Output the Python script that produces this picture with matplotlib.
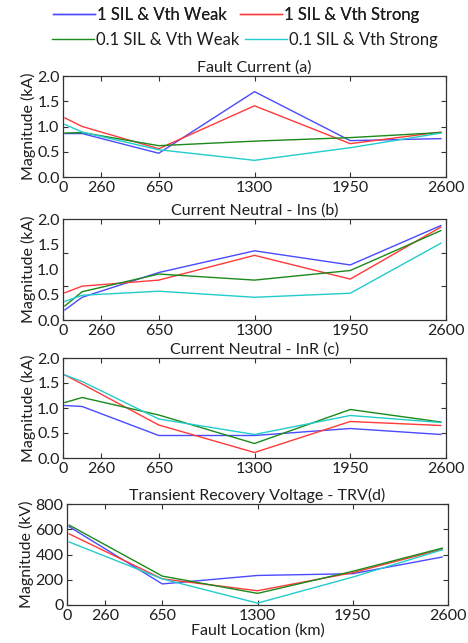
import matplotlib
matplotlib.use("Agg")
import matplotlib.pyplot as plt
from matplotlib.lines import Line2D

plt.rcParams['font.family'] = ['Lato', 'DejaVu Sans']

# ---------------- data ----------------
x5 = [13, 130, 650, 1300, 1950, 2565]
x4 = [15, 650, 1300, 1950, 2560]
xticks = [0, 260, 650, 1300, 1950, 2600]

series_names = ["1 SIL & Vth Weak", "1 SIL & Vth Strong",
                "0.1 SIL & Vth Weak", "0.1 SIL & Vth Strong"]
series_colors = ["#4a4aff", "#ff3a3a", "#1a8a1a", "#22cccc"]

# (a) Fault Current (kA)
fc_w1 = [0.86, 0.86, 0.47, 1.69, 0.72, 0.76]
fc_s1 = [1.17, 1.00, 0.56, 1.41, 0.66, 0.89]
fc_w01 = [0.87, 0.88, 0.62, 0.71, 0.78, 0.88]
fc_s01 = [1.04, 0.89, 0.54, 0.33, 0.58, 0.87]

# (b) Current Neutral - Ins (kA)
ins_w1 = [0.20, 0.45, 0.94, 1.37, 1.09, 1.87]
ins_s1 = [0.54, 0.67, 0.79, 1.28, 0.81, 1.84]
ins_w01 = [0.28, 0.56, 0.91, 0.79, 0.98, 1.77]
ins_s01 = [0.37, 0.49, 0.57, 0.45, 0.53, 1.52]

# (c) Current Neutral - InR (kA)
inr_w1 = [1.05, 1.03, 0.45, 0.45, 0.59, 0.47]
inr_s1 = [1.66, 1.48, 0.66, 0.11, 0.73, 0.65]
inr_w01 = [1.11, 1.21, 0.86, 0.29, 0.97, 0.72]
inr_s01 = [1.66, 1.53, 0.78, 0.47, 0.85, 0.71]

# (d) TRV (kV)
trv_w1 = [620, 167, 234, 248, 380]
trv_s1 = [563, 207, 113, 256, 442]
trv_w01 = [633, 229, 92, 267, 450]
trv_s01 = [499, 207, 15, 221, 437]

panels = [
    ("Fault Current (a)", x5, [fc_w1, fc_s1, fc_w01, fc_s01], (0, 2.0),
     [0, 0.5, 1.0, 1.5, 2.0], ["0.0", "0.5", "1.0", "1.5", "2.0"], "Magnitude (kA)"),
    ("Current Neutral - Ins (b)", x5, [ins_w1, ins_s1, ins_w01, ins_s01], (0, 2.0),
     [0, 0.5, 1.0, 1.5, 2.0], ["0.0", "0.5", "1.0", "1.5", "2.0"], "Magnitude (kA)"),
    ("Current Neutral - InR (c)", x5, [inr_w1, inr_s1, inr_w01, inr_s01], (0, 2.0),
     [0, 0.5, 1.0, 1.5, 2.0], ["0.0", "0.5", "1.0", "1.5", "2.0"], "Magnitude (kA)"),
    ("Transient Recovery Voltage - TRV(d)", x4, [trv_w1, trv_s1, trv_w01, trv_s01], (0, 800),
     [0, 200, 400, 600, 800], ["0", "200", "400", "600", "800"], "Magnitude (kV)"),
]

W, H = 468, 643
fig = plt.figure(figsize=(W / 100, H / 100), dpi=100)

# axes boxes in pixels: left, right, top, bottom
boxes = [(63, 446, 76, 177), (63, 446, 219, 320), (63, 446, 358, 458), (67, 448, 504, 605)]
txt = "#1e1e1e"

for i, (title, xs, ys, ylim, yt, ytl, ylab) in enumerate(panels):
    l, r, t, b = boxes[i]
    ax = fig.add_axes([l / W, 1 - b / H, (r - l) / W, (b - t) / H])
    for y, c in zip(ys, series_colors):
        ax.plot(xs, y, color=c, lw=1.0)
    ax.set_xlim(0, 2600)
    ax.set_ylim(*ylim)
    ax.set_xticks(xticks)
    ax.set_xticklabels([str(v) for v in xticks])
    ax.set_yticks(yt)
    ax.set_yticklabels(ytl)
    ax.tick_params(direction='in', top=True, right=True, length=3.5, width=0.8,
                   labelsize=11.5, colors='#333333', labelcolor=txt)
    ax.tick_params(axis='x', pad=3)
    ax.tick_params(axis='y', pad=2.5)
    if i == 1:
        ax.tick_params(axis='y', which='major', length=0)
        ax.set_yticks([2 / 3, 4 / 3], minor=True)
        ax.tick_params(axis='y', which='minor', direction='in', left=True, right=True,
                       length=3.5, width=0.8, colors='#333333')
    for s in ax.spines.values():
        s.set_linewidth(0.9)
        s.set_color('#333333')
    ax.set_title(title, fontsize=11.5, color=txt, pad=3)
    ax.set_ylabel(ylab, fontsize=11.5, color=txt, labelpad=1)
    if i == 3:
        ax.set_xlabel("Fault Location (km)", fontsize=11.5, color=txt, labelpad=0)

handles = [Line2D([], [], color=c, lw=1.0) for c in series_colors]
leg1 = fig.legend(handles[:2], series_names[:2], loc='center', ncol=2,
                  bbox_to_anchor=(236 / W, 1 - 15 / H), frameon=False, fontsize=12,
                  handlelength=2.5, handletextpad=0.12, columnspacing=0.8,
                  borderpad=0, borderaxespad=0)
for tx in leg1.get_texts():
    tx.set_color(txt)
leg2 = fig.legend(handles[2:], series_names[2:], loc='center', ncol=2,
                  bbox_to_anchor=(245 / W, 1 - 40 / H), frameon=False, fontsize=12,
                  handlelength=2.5, handletextpad=0.12, columnspacing=0.35,
                  borderpad=0, borderaxespad=0)
for tx in leg2.get_texts():
    tx.set_color(txt)
fig.add_artist(leg1)

fig.savefig("out.png", dpi=100)
